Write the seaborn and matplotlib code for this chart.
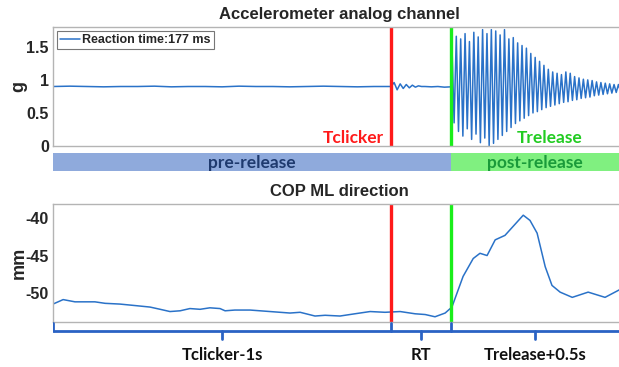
import numpy as np
import pandas as pd
import seaborn as sns
import matplotlib.pyplot as plt

# time in seconds, Tclicker = 0
t_click = 0.0
t_release = 0.177
t_end = 0.692

# accelerometer (g)
acc_base = [0.90, 0.905, 0.90, 0.895, 0.90, 0.90, 0.905, 0.895, 0.90, 0.90, 0.895,
            0.905, 0.90, 0.90, 0.895, 0.90, 0.905, 0.90, 0.895, 0.90, 0.90]
acc_click = [0.90, 0.96, 0.85, 0.94, 0.87, 0.93, 0.88, 0.92, 0.89, 0.91, 0.90]
acc_quiet = [0.90, 0.895, 0.90, 0.89, 0.895]
acc_peaks = [1.55, 1.66, 1.62, 1.70, 1.58, 1.72, 1.65, 1.76, 1.70, 1.76,
             1.74, 1.68, 1.76, 1.62, 1.64, 1.56, 1.52, 1.48, 1.40, 1.34,
             1.28, 1.22, 1.16, 1.12, 1.10, 1.08, 1.12, 1.10, 1.05, 1.03,
             1.01, 1.00, 0.99, 0.97, 0.96, 0.95, 0.94, 0.93, 0.93, 0.92]
acc_troughs = [0.35, 0.22, 0.15, 0.26, 0.10, 0.18, 0.05, 0.12, 0.00, 0.04,
               0.10, 0.16, 0.22, 0.28, 0.34, 0.38, 0.42, 0.46, 0.50, 0.52,
               0.55, 0.58, 0.60, 0.62, 0.64, 0.66, 0.67, 0.69, 0.70, 0.72,
               0.73, 0.74, 0.76, 0.77, 0.78, 0.79, 0.80, 0.81, 0.82, 0.83]

# COP ML (mm)
cop_t = [-1.000, -0.970, -0.935, -0.876, -0.846, -0.802, -0.757, -0.713, -0.683, -0.654,
         -0.624, -0.595, -0.565, -0.536, -0.506, -0.491, -0.462, -0.417, -0.358, -0.299,
         -0.269, -0.225, -0.195, -0.151, -0.107, -0.062, -0.018, 0.027, 0.071, 0.101,
         0.130, 0.160, 0.180, 0.213, 0.243, 0.263, 0.284, 0.308, 0.337, 0.367,
         0.391, 0.411, 0.432, 0.456, 0.476, 0.500, 0.536, 0.583, 0.633, 0.675, 0.692]
cop_v = [-51.5, -50.9, -51.2, -51.2, -51.4, -51.5, -51.7, -51.9, -52.2, -52.5,
         -52.4, -52.1, -52.2, -52.0, -52.1, -52.4, -52.3, -52.3, -52.5, -52.7,
         -52.6, -53.1, -53.0, -53.1, -52.8, -52.5, -52.6, -52.5, -52.8, -52.9,
         -53.2, -52.7, -51.9, -47.8, -45.4, -44.7, -45.0, -42.9, -42.3, -40.8,
         -39.6, -40.3, -42.0, -46.5, -49.0, -49.9, -50.6, -49.9, -50.6, -49.6, -49.0]

bracket_labels = ["Tclicker-1s", "RT", "Trelease+0.5s"]

# build accelerometer series
acc_rel = [v for pair in zip(acc_peaks, acc_troughs) for v in pair]
acc_t = np.concatenate([
    np.linspace(-1.0, -0.0001, len(acc_base)),
    np.linspace(0.0, 0.09, len(acc_click)),
    np.linspace(0.10, t_release, len(acc_quiet)),
    np.linspace(t_release + 0.003, t_end, len(acc_rel)),
])
acc = pd.DataFrame({"t": acc_t, "g": acc_base + acc_click + acc_quiet + acc_rel})
cop = pd.DataFrame({"t": cop_t, "mm": cop_v})

sns.set_style("white")
plt.rcParams["font.family"] = ["Liberation Sans", "DejaVu Sans"]
plt.rcParams["font.weight"] = "bold"

W, H = 619, 367
fig = plt.figure(figsize=(W / 100, H / 100), dpi=100)

def box(x0, y0, x1, y1):
    return [x0 / W, 1 - y1 / H, (x1 - x0) / W, (y1 - y0) / H]

line_col = "#2a72c8"
grid_col = "#b4b4b4"
red = "#ff1a1a"
green = "#1aee1a"
xlim = (-1.0, t_end)
lab_font = ["Lato", "DejaVu Sans"]

ax1 = fig.add_axes(box(53, 27, 625, 146))
ax_band = fig.add_axes(box(53, 153, 625, 171))
ax2 = fig.add_axes(box(53, 204, 625, 322))
ax_br = fig.add_axes(box(53, 320, 625, 342))

for ax in (ax1, ax2):
    for s in ax.spines.values():
        s.set_color(grid_col)
        s.set_linewidth(1)
    ax.tick_params(axis="y", direction="in", length=4, color=grid_col, right=True,
                   labelsize=11.5, pad=3)
    ax.set_xticks([])
    ax.set_xlim(*xlim)

# accelerometer
sns.lineplot(data=acc, x="t", y="g", ax=ax1, color=line_col, lw=1.1,
             label="Reaction time:177 ms")
ax1.axvline(t_click, color=red, lw=2.4)
ax1.axvline(t_release, color=green, lw=2.4)
ax1.set_ylim(0, 1.8)
ax1.set_yticks([0, 0.5, 1, 1.5])
ax1.set_yticklabels(["0", "0.5", "1", "1.5"], fontweight="bold")
ax1.set_xlabel("")
ax1.set_ylabel("g", fontsize=13, fontweight="bold")
ax1.set_title("Accelerometer analog channel", fontsize=12, fontweight="bold", pad=6)
leg = ax1.legend(loc="upper left", fontsize=9, frameon=True, fancybox=False,
                 borderpad=0.25, handlelength=1.6, handletextpad=0.2,
                 borderaxespad=0.3)
leg.get_frame().set_edgecolor("#555555")
leg.get_frame().set_linewidth(0.8)
for txt in leg.get_texts():
    txt.set_fontweight("bold")
ax1.text(t_click - 0.02, 0.12, "Tclicker", color=red, fontsize=12.5, ha="right",
         va="center", fontweight="bold", family=lab_font)
ax1.text(0.47, 0.12, "Trelease", color="#22cc22", fontsize=12.5,
         ha="center", va="center", fontweight="bold", family=lab_font)

# band
ax_band.axvspan(-1.0, t_release, color="#8faadc", lw=0)
ax_band.axvspan(t_release, t_end, color="#80f080", lw=0)
ax_band.set_xlim(*xlim)
ax_band.set_ylim(0, 1)
ax_band.axis("off")
ax_band.text((-1.0 + t_release) / 2, 0.45, "pre-release", color="#1f3a6e", fontsize=12.5,
             ha="center", va="center", fontweight="bold", family=lab_font)
ax_band.text((t_release + 0.675) / 2, 0.45, "post-release", color="#1a9a3a", fontsize=12.5,
             ha="center", va="center", fontweight="bold", family=lab_font)

# COP
sns.lineplot(data=cop, x="t", y="mm", ax=ax2, color=line_col, lw=1.1)
ax2.axvline(t_click, color=red, lw=2.4)
ax2.axvline(t_release, color=green, lw=2.4)
ax2.set_ylim(-53.9, -38.1)
ax2.set_yticks([-50, -45, -40])
ax2.set_yticklabels(["-50", "-45", "-40"], fontweight="bold")
ax2.set_xlabel("")
ax2.set_ylabel("mm", fontsize=13, fontweight="bold")
ax2.set_title("COP ML direction", fontsize=12, fontweight="bold", pad=6)

# y labels sit at the same place in both panels
ax1.yaxis.set_label_coords(-0.045, 0.5)
ax2.yaxis.set_label_coords(-0.045, 0.5)

# brackets under the COP axes
br_col = "#2a62c4"
edges = [-1.0, t_click, t_release, 0.677]
ax_br.plot([edges[0], t_end], [0.5, 0.5], color=br_col, lw=2, solid_capstyle="butt")
for e in edges:
    ax_br.plot([e, e], [0.5, 0.86], color=br_col, lw=2)
for a, b, lab in zip(edges[:-1], edges[1:], bracket_labels):
    m = (a + b) / 2
    ax_br.plot([m, m], [0.5, 0.14], color=br_col, lw=2)
    ax_br.text(m, -0.6, lab, ha="center", va="center", fontsize=12, color="#111111",
               fontweight="bold", family=lab_font)
ax_br.set_xlim(*xlim)
ax_br.set_ylim(0, 1)
ax_br.axis("off")

fig.savefig("out.png", dpi=100)
